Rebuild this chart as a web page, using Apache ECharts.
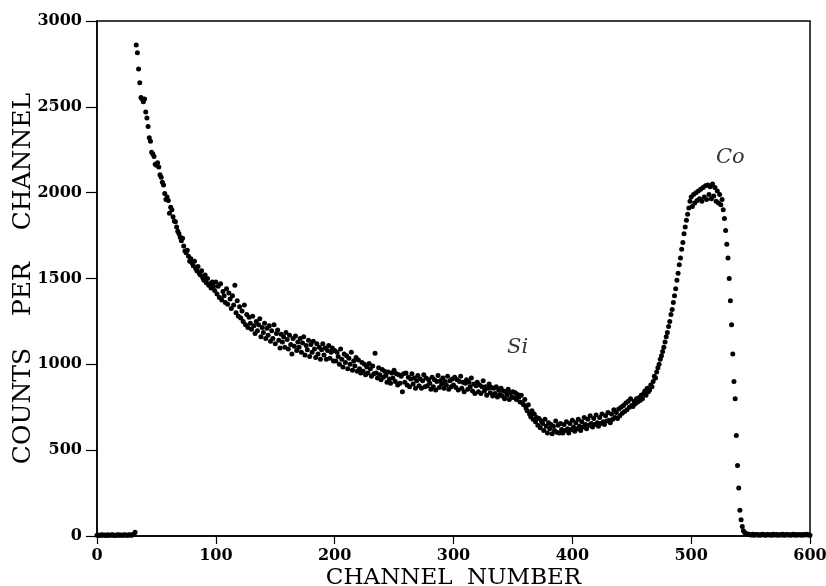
<!DOCTYPE html>
<html>
<head>
<meta charset="utf-8">
<script src="https://cdn.jsdelivr.net/npm/echarts@6/dist/echarts.min.js"></script>
<style>html,body{margin:0;padding:0;background:#fff}#c{width:826px;height:586px}</style>
</head>
<body>
<div id="c"></div>
<script>
// Channel ranges (start channel of each block) and counts
const startLow = 0;
const countsLow = [4,6,3,5,8,4,6,5,3,7,5,4,6,8,5,3,6,4,7,5,6,4,5,8,6,4,5,7,6,5,8,10,22];

const startDecay = 33;
const countsDecay = [
2860,2815,2720,2640,2555,2545,2530,2545,2470,2435,2385,2320,2300,2235,2225,2210,2165,2160,2175,2150,
2105,2090,2060,2045,1995,1960,1975,1955,1880,1915,1900,1860,1835,1830,1800,1775,1760,1740,1720,1735,
1690,1660,1650,1665,1630,1600,1615,1590,1575,1600,1560,1545,1570,1530,1520,1545,1505,1490,1520,1475,
1500,1460,1470,1445,1480,1455,1430,
1480,1410,1455,1390,1470,1375,1425,1400,1360,1440,
1350,1415,1380,1325,1400,1345,1460,1300,1370,1280,
1335,1270,1310,1250,1345,1230,1290,1215,1275,1240,
1205,1280,1225,1180,1250,1195,1230,1265,1160,1215,
1185,1240,1150,1210,1170,1225,1135,1195,1150,1230,
1120,1180,1200,1140,1095,1175,1130,1160,1100,1185,
1145,1090,1170,1115,1060,1150,1105,1165,1080,1130,
1100,1150,1070,1125,1160,1055,1110,1085,1140,1045,
1115,1070,1135,1090,1040,1120,1060,1100,1030,1085,
1120,1055,1095,1030,1080,1110,1035,1070,1095,1020,
1080,1020,1070,1045,1000,1090,1030,985,1060,1010,
1050,975,1035,1000,1070,965,1020,990,1040,960,
1025,975,950,1010,960,1000,940,985,950,1005,
975,930,990,945,1065,950,920,980,940,910,
970,925,960,935,895,955,915,890,950,920,
965,900,945,880,940,890,930,840,945,895,
950,880,925,870,915,945,885,920,860,905,
935,875,915,860,905,940,870,920,875,910,
890,855,925,870,910,850,900,935,865,905,
885,920,860,900,880,930,855,905,870,915,
880,925,865,910,850,900,930,860,895,840,
890,910,855,895,870,920,845,885,830,875,
895,840,880,830,870,905,845,870,820,860,
885,835,865,815,860,830,870,810,850,825,
860,815,845,800,840,820,855,795,835,810];

const startSi = 350;
const countsSi = [
840,805,835,795,825,810,780,820,775,765,795,745,730,765,710,695,730,680,710,665,
690,645,685,630,670,655,615,680,640,600,660,625,650,595,640,615,670,605,645,600,
655,620,600,650,615,665,625,600,655,620,675,635,610,660,625,680,640,615,665,635,
690,650,625,680,645,700,655,635,685,650,705,660,640,690,655,710,665,650,700,670,
720,675,660,710,680,735,690,720,685,740,700,750,715,760,725,775,735,785,750,800];

const startCo = 450;
const countsCo = [
760,755,785,770,800,780,805,790,820,800,830,845,820,860,840,850,880,870,900,930,
920,955,980,1000,1030,1050,1075,1100,1130,1160,1185,1220,1250,1290,1320,1360,1400,1440,1490,1530,
1580,1620,1670,1710,1760,1800,1840,1875,1910,1950,1975,1920,1990,1940,2000,1955,2010,1965,2020,1950,
2030,1975,2040,1960,2045,1990,2035,1965,2050,1980,2030,1950,2010,1940,1990,1930,1960,1900,1850,1780,
1700,1620,1500,1370,1230,1060,900,800,585,410,280,150,95,55,30,20,14,10,12,8];

const startTail = 550;
const countsTail = [8,6,10,5,7,9,6,8,5,7,10,6,8,5,9,7,6,8,5,10,7,6,9,5,8,6,7,10,5,8,6,9,7,5,8,6,10,7,5,9,6,8,7,5,9,6,8,10,6,7,5];

const xTicks = [0,100,200,300,400,500,600];
const yTicks = [0,500,1000,1500,2000,2500,3000];
const xTitle = 'CHANNEL  NUMBER';
const yTitle = 'COUNTS    PER    CHANNEL';
const peakNames = ['Si', 'Co'];
const peakChannels = [354, 533];
const peakLabelCounts = [1095, 2207];

const blocks = [[startLow,countsLow],[startDecay,countsDecay],[startSi,countsSi],[startCo,countsCo],[startTail,countsTail]];
const points = [];
blocks.forEach(([s, arr]) => arr.forEach((v, i) => points.push([s + i, v])));

const serif = 'DejaVu Serif';
const chart = echarts.init(document.getElementById('c'), null, {renderer: 'canvas'});
chart.setOption({
  animation: false,
  backgroundColor: '#fff',
  grid: {left: 97, right: 16, top: 21, bottom: 50, show: true, borderColor: '#000', borderWidth: 1.5,
         containLabel: false, outerBoundsMode: 'none'},
  xAxis: {
    type: 'value', min: xTicks[0], max: xTicks[xTicks.length-1], interval: 100,
    name: xTitle, nameLocation: 'middle', nameGap: 31, nameMoveOverlap: false,
    nameTextStyle: {fontFamily: serif, fontSize: 23, color: '#000'},
    axisLine: {lineStyle: {color: '#000', width: 1.5}},
    axisTick: {inside: false, length: 8, lineStyle: {color: '#000', width: 1.2}},
    axisLabel: {margin: 12, fontFamily: serif, fontWeight: 'bold', fontSize: 16, color: '#000',
                formatter: v => String(v)},
    splitLine: {show: false}
  },
  yAxis: {
    type: 'value', min: yTicks[0], max: yTicks[yTicks.length-1], interval: 500,
    name: yTitle, nameLocation: 'middle', nameGap: 61, nameRotate: 90, nameMoveOverlap: false,
    nameTextStyle: {fontFamily: serif, fontSize: 25, color: '#000'},
    axisLine: {lineStyle: {color: '#000', width: 1.5}},
    axisTick: {inside: false, length: 11, lineStyle: {color: '#000', width: 1.2}},
    axisLabel: {margin: 15, fontFamily: serif, fontWeight: 'bold', fontSize: 16, color: '#000',
                formatter: v => String(v)},
    splitLine: {show: false}
  },
  series: [
    {
      type: 'scatter', data: points, symbolSize: 5,
      itemStyle: {color: '#000', opacity: 1}, silent: true
    },
    {
      type: 'scatter', symbolSize: 0,
      data: peakNames.map((n, i) => ({name: n, value: [peakChannels[i], peakLabelCounts[i]]})),
      label: {show: true, position: 'inside', formatter: p => p.name,
        fontFamily: serif, fontStyle: 'italic', fontSize: 21, color: '#000'},
      silent: true
    }
  ]
});
</script>
</body>
</html>
